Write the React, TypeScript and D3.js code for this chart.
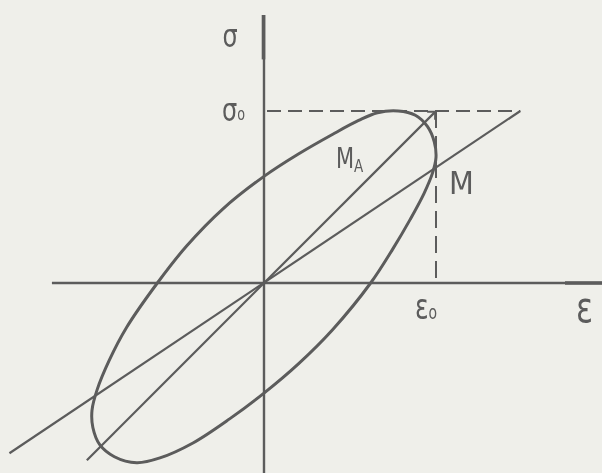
import React from "react";
import * as d3 from "d3";

// Stress–strain loop of a viscoelastic material under harmonic loading.
// Strain ε and stress σ are expressed in units of their amplitudes ε0, σ0.
const EPS0 = 1;
const SIG0 = 1;

// Hysteresis loop, traced clockwise from its top.
const LOOP_EPS = [0.66, 0.78, 0.88, 0.95, 0.99, 1.0, 0.98, 0.93, 0.85, 0.75, 0.62, 0.4, 0.2, 0.0, -0.2, -0.413, -0.605, -0.74, -0.87, -0.955, -0.995, -1.0, -0.97, -0.9, -0.8, -0.62, -0.45, -0.24, 0.0, 0.2, 0.4, 0.55];
const LOOP_SIG = [0.99, 1.0, 0.975, 0.91, 0.82, 0.73, 0.64, 0.52, 0.37, 0.2, 0.0, -0.27, -0.47, -0.64, -0.79, -0.93, -1.017, -1.045, -1.01, -0.94, -0.84, -0.74, -0.62, -0.45, -0.26, 0.0, 0.215, 0.43, 0.62, 0.75, 0.865, 0.945];

// Secant through the point M (modulus M) and line to the corner (ε0, σ0) (modulus M_A).
const SECANT_M_EPS = [-1.48, 1.49];
const SECANT_M_SIG = [-0.99, 1.0];
const SECANT_MA_EPS = [-1.03, 0.995];
const SECANT_MA_SIG = [-1.03, 0.995];

// Axis extents.
const AXIS_EPS = [-1.233, 1.97];
const AXIS_SIG = [-1.11, 1.558];

const W = 602;
const H = 473;
const INK = "#5b5b5b";

export default function App() {
  const x = d3.scaleLinear().domain([-1, 1]).range([92, 436]);
  const y = d3.scaleLinear().domain([-1, 1]).range([455, 111]);

  const loopPts: [number, number][] = LOOP_EPS.map((e, i) => [e, LOOP_SIG[i]]);
  const loopPath = d3
    .line<[number, number]>()
    .x((d) => x(d[0]))
    .y((d) => y(d[1]))
    .curve(d3.curveCatmullRomClosed.alpha(0.5))(loopPts) as string;

  const seg = (es: number[], ss: number[]) =>
    d3
      .line<number>()
      .x((_, i) => x(es[i]))
      .y((_, i) => y(ss[i]))(es) as string;

  const tipX = x(SECANT_MA_EPS[1]);
  const tipY = y(SECANT_MA_SIG[1]);

  const font = "'DejaVu Sans', sans-serif";
  const squeeze = (cx: number, k: number) => `translate(${cx},0) scale(${k},1) translate(${-cx},0)`;

  return (
    <svg
      width={W}
      height={H}
      viewBox={`0 0 ${W} ${H}`}
      style={{ position: "fixed", left: 0, top: 0, background: "#efefea" }}
    >
      <defs>
        <filter id="soft" x="-5%" y="-5%" width="110%" height="110%">
          <feGaussianBlur stdDeviation="0.45" />
        </filter>
      </defs>
      <rect width={W} height={H} fill="#efefea" />
      <g filter="url(#soft)">
        {/* axes */}
        <line x1={x(AXIS_EPS[0])} x2={x(AXIS_EPS[1])} y1={y(0)} y2={y(0)} stroke={INK} strokeWidth={2.6} />
        <line x1={x(1.75)} x2={x(AXIS_EPS[1])} y1={y(0)} y2={y(0)} stroke={INK} strokeWidth={3.6} />
        <line x1={x(0)} x2={x(0)} y1={y(AXIS_SIG[0])} y2={y(AXIS_SIG[1])} stroke={INK} strokeWidth={2.4} />
        <line x1={x(0) - 0.5} x2={x(0) - 0.5} y1={y(AXIS_SIG[1])} y2={y(1.3)} stroke={INK} strokeWidth={3.6} />

        {/* amplitude guides */}
        <line x1={x(0) + 3} x2={x(SECANT_M_EPS[1])} y1={y(SIG0)} y2={y(SIG0)} stroke={INK} strokeWidth={2} strokeDasharray="14 7" />
        <line x1={x(EPS0)} x2={x(EPS0)} y1={y(SIG0)} y2={y(0)} stroke={INK} strokeWidth={2} strokeDasharray="17 8" />

        {/* secants */}
        <path d={seg(SECANT_M_EPS, SECANT_M_SIG)} fill="none" stroke={INK} strokeWidth={2.2} />
        <path d={seg(SECANT_MA_EPS, SECANT_MA_SIG)} fill="none" stroke={INK} strokeWidth={2.2} />
        <path
          d={`M${tipX - 8},${tipY} L${tipX},${tipY} L${tipX},${tipY + 8}`}
          fill="none"
          stroke={INK}
          strokeWidth={2}
        />

        {/* hysteresis loop */}
        <path d={loopPath} fill="none" stroke={INK} strokeWidth={3} />

        {/* labels */}
        <g fill={INK} fontFamily={font}>
          <text x={230} y={47} fontSize={32} textAnchor="middle" transform={squeeze(230, 0.75)}>σ</text>
          <text x={222} y={121} fontSize={32} transform={squeeze(222, 0.75)}>
            σ<tspan fontSize={17} dy={-1}>o</tspan>
          </text>
          <text x={336} y={168} fontSize={28} transform={squeeze(336, 0.75)}>
            M<tspan fontSize={18} dy={4}>A</tspan>
          </text>
          <text x={449} y={194} fontSize={32} transform={squeeze(449, 0.9)}>M</text>
          <text x={415} y={319} fontSize={36} transform={squeeze(415, 0.7)}>
            ε<tspan fontSize={20} dy={0}>o</tspan>
          </text>
          <text x={576} y={322} fontSize={42} transform={squeeze(576, 0.75)}>ε</text>
        </g>
      </g>
    </svg>
  );
}
